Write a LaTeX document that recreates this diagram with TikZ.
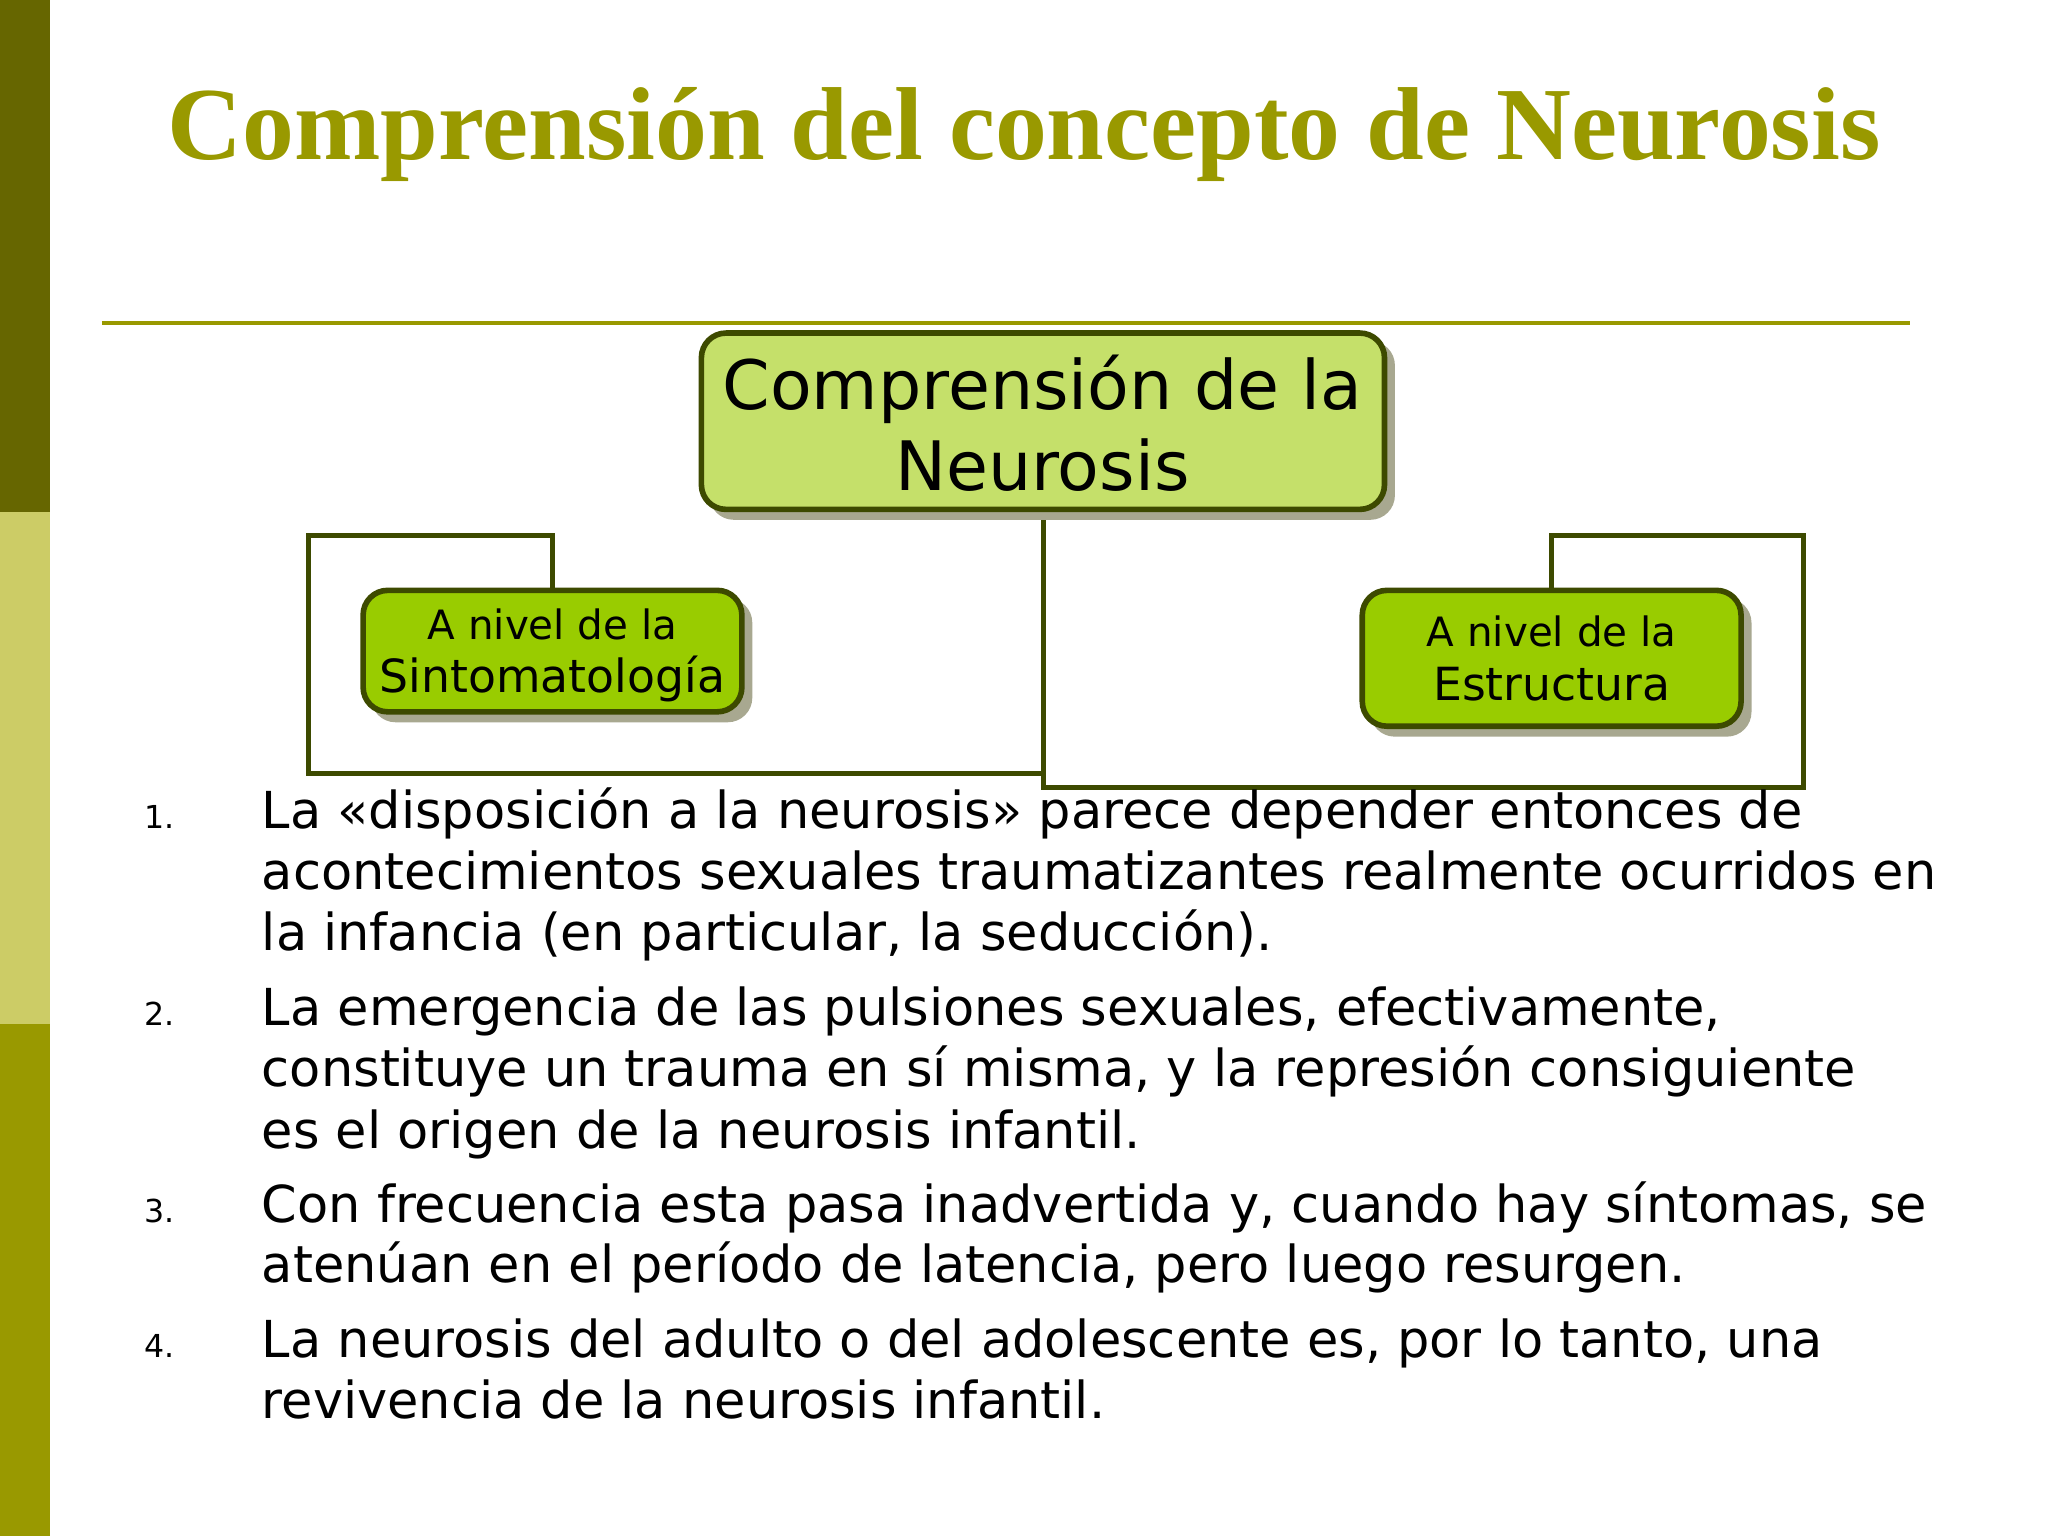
\documentclass[tikz,border=0pt]{standalone}
\usepackage{fontspec}
\setmainfont{DejaVu Sans}
\newfontfamily\titlefont{Liberation Serif}
\definecolor{olivet}{HTML}{999900}
\definecolor{darkol}{HTML}{666600}
\definecolor{lightol}{HTML}{CCCC66}
\definecolor{edgec}{HTML}{3D4A00}
\definecolor{topfill}{HTML}{C5E06A}
\definecolor{subfill}{HTML}{99CC00}
\definecolor{shad}{HTML}{A8A890}
\begin{document}
\begin{tikzpicture}[x=0.013061cm,y=-0.013061cm,
  boxs/.style={draw=edgec,line width=1.6pt,rounded corners=7pt},
  conn/.style={draw=edgec,line width=1.5pt},
  small/.style={anchor=base,inner sep=0pt,font=\fontsize{11.5}{14}\selectfont},
  big/.style={anchor=base,inner sep=0pt,font=\fontsize{13}{15}\selectfont},
  item/.style={anchor=base west,font=\fontsize{14.5}{17.5}\selectfont,inner sep=0pt},
  num/.style={anchor=base west,font=\fontsize{9}{11}\selectfont,inner sep=0pt}]
\useasboundingbox (0,0) rectangle (1568,1176);
\fill[darkol] (0,0) rectangle (38,392);
\fill[lightol] (0,392) rectangle (38,784);
\fill[olivet] (0,784) rectangle (38,1176);
\node[text=olivet,font=\titlefont\bfseries\fontsize{29.5}{34}\selectfont] (title) at (784,103) {Comprensión del concepto de Neurosis};
\draw[olivet,line width=1.1pt] (78,247) -- (1462,247);
% connectors
\coordinate (j) at (799,392);
\draw[conn] (j) -- (799,592) -- (236,592) -- (236,410) -- (423,410) -- (423,452);
\draw[conn] (j) -- (799,603) -- (1381,603) -- (1381,410) -- (1188,410) -- (1188,452);
% boxes
\fill[shad,rounded corners=7pt] (543,261) rectangle (1068,398);
\filldraw[boxs,fill=topfill] (537,255) rectangle (1060,390);
\node[align=center,font=\fontsize{19.4}{23}\selectfont] (top) at (798,324) {Comprensión de la\\Neurosis};
\fill[shad,rounded corners=7pt] (284,458) rectangle (576,553);
\filldraw[boxs,fill=subfill] (278,452) rectangle (568,545);
\node[small] (l1) at (423,490) {A nivel de la};
\node[big] (l2) at (423,530) {Sintomatología};
\fill[shad,rounded corners=7pt] (1049,458) rectangle (1341,564);
\filldraw[boxs,fill=subfill] (1043,452) rectangle (1333,556);
\node[small] (r1) at (1188,495) {A nivel de la};
\node[big] (r2) at (1188,536) {Estructura};
% list
\node[num] (n1) at (110,634) {1.};
\node[item] (t1a) at (200,634) {La «disposición a la neurosis» parece depender entonces de};
\node[item] (t1b) at (200,681) {acontecimientos sexuales traumatizantes realmente ocurridos en};
\node[item] (t1c) at (200,728) {la infancia (en particular, la seducción).};
\node[num] (n2) at (110,785) {2.};
\node[item] (t2a) at (200,785) {La emergencia de las pulsiones sexuales, efectivamente,};
\node[item] (t2b) at (200,832) {constituye un trauma en sí misma, y la represión consiguiente};
\node[item] (t2c) at (200,879) {es el origen de la neurosis infantil.};
\node[num] (n3) at (110,936) {3.};
\node[item] (t3a) at (200,936) {Con frecuencia esta pasa inadvertida y, cuando hay síntomas, se};
\node[item] (t3b) at (200,982) {atenúan en el período de latencia, pero luego resurgen.};
\node[num] (n4) at (110,1039) {4.};
\node[item] (t4a) at (200,1039) {La neurosis del adulto o del adolescente es, por lo tanto, una};
\node[item] (t4b) at (200,1086) {revivencia de la neurosis infantil.};
\end{tikzpicture}
\end{document}
